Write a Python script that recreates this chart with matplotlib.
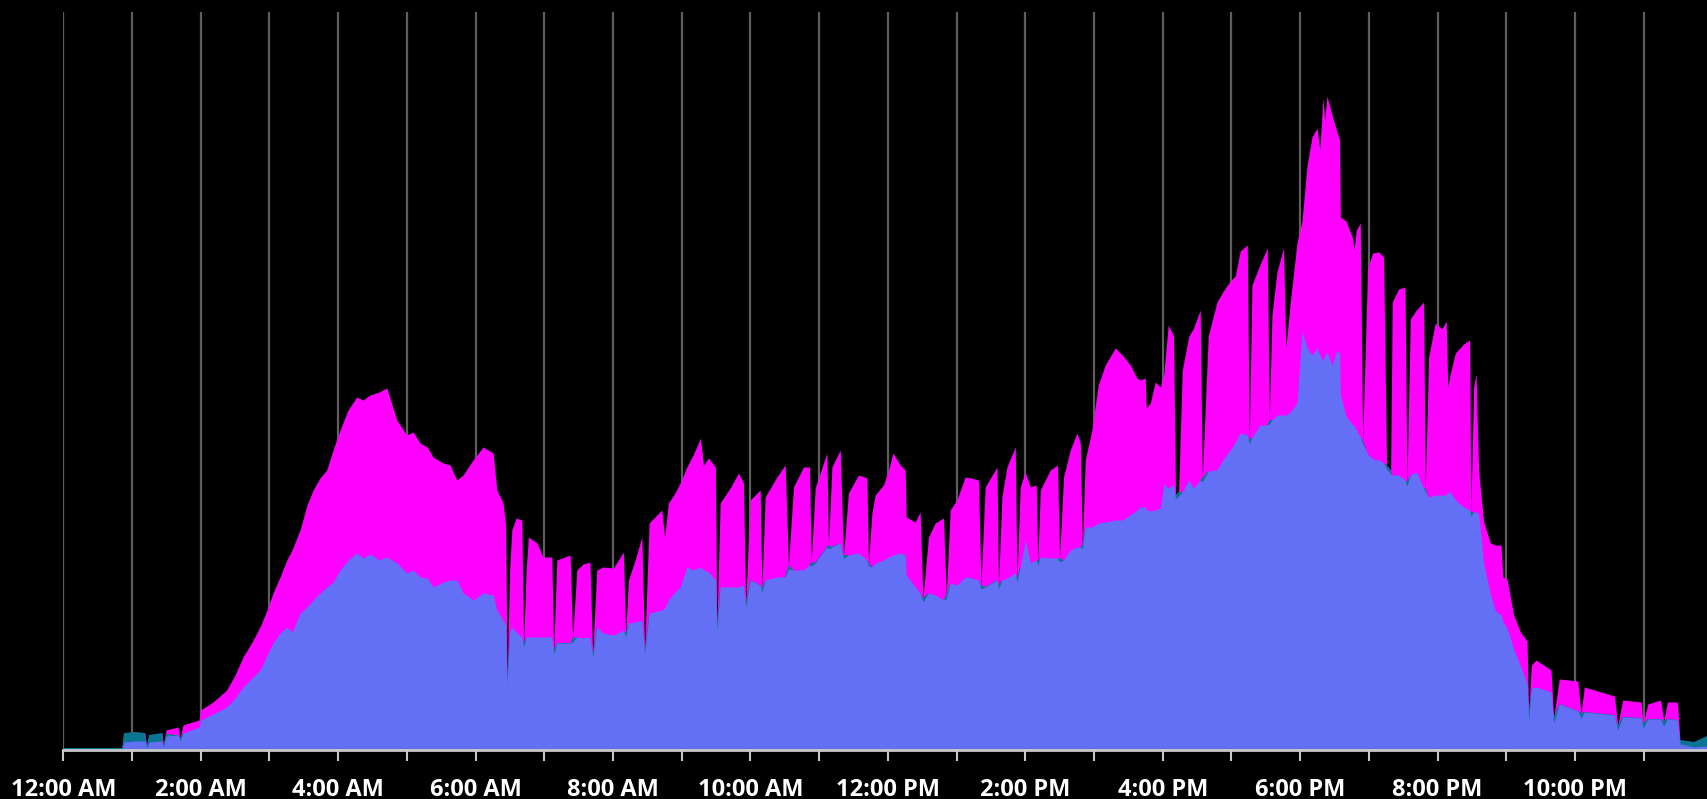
"""
Lưu lượng trong ngày theo giờ - biểu đồ vùng chồng (nền đen).
"""

import matplotlib
matplotlib.use("Agg")
import matplotlib.pyplot as plt
import numpy as np

# Thời điểm (giờ trong ngày)
hours = [
    0.000, 0.854, 0.884, 1.044, 1.189, 1.214, 1.247, 1.437, 1.459, 1.495,
    1.670, 1.699, 1.742, 1.975, 1.997, 2.179, 2.378, 2.499, 2.616, 2.747,
    2.863, 2.965, 3.052, 3.154, 3.252, 3.329, 3.445, 3.547, 3.635, 3.736,
    3.834, 3.926, 4.028, 4.144, 4.271, 4.362, 4.464, 4.595, 4.707, 4.785,
    4.853, 4.999, 5.090, 5.192, 5.294, 5.381, 5.527, 5.629, 5.726, 5.818,
    5.964, 6.109, 6.255, 6.309, 6.400, 6.437, 6.459, 6.495, 6.527, 6.590,
    6.672, 6.699, 6.735, 6.769, 6.891, 6.983, 7.109, 7.136, 7.182, 7.376,
    7.412, 7.473, 7.565, 7.664, 7.703, 7.764, 7.856, 8.006, 8.151, 8.183,
    8.224, 8.322, 8.419, 8.460, 8.525, 8.710, 8.751, 8.806, 8.902, 8.977,
    9.074, 9.166, 9.272, 9.315, 9.389, 9.490, 9.511, 9.559, 9.705, 9.825,
    9.898, 9.930, 9.996, 10.141, 10.166, 10.214, 10.384, 10.505, 10.553, 10.626,
    10.771, 10.859, 10.884, 10.942, 11.112, 11.135, 11.185, 11.306, 11.354, 11.426,
    11.572, 11.694, 11.718, 11.767, 11.815, 11.936, 12.009, 12.073, 12.179, 12.252,
    12.266, 12.397, 12.469, 12.509, 12.591, 12.688, 12.809, 12.849, 12.907, 13.004,
    13.125, 13.212, 13.319, 13.354, 13.416, 13.587, 13.610, 13.659, 13.732, 13.853,
    13.878, 13.926, 13.999, 14.072, 14.159, 14.181, 14.218, 14.363, 14.469, 14.498,
    14.556, 14.654, 14.752, 14.800, 14.829, 14.872, 14.969, 15.061, 15.163, 15.309,
    15.411, 15.527, 15.623, 15.672, 15.745, 15.760, 15.818, 15.891, 15.964, 16.015,
    16.080, 16.157, 16.186, 16.230, 16.284, 16.380, 16.443, 16.545, 16.575, 16.662,
    16.789, 16.881, 16.983, 17.055, 17.128, 17.230, 17.259, 17.298, 17.419, 17.521,
    17.550, 17.589, 17.662, 17.758, 17.790, 17.856, 17.953, 18.026, 18.099, 18.172,
    18.245, 18.285, 18.332, 18.358, 18.390, 18.463, 18.535, 18.573, 18.584, 18.666,
    18.763, 18.782, 18.818, 18.874, 18.909, 18.982, 19.054, 19.146, 19.214, 19.257,
    19.316, 19.340, 19.432, 19.525, 19.554, 19.603, 19.690, 19.796, 19.820, 19.869,
    19.966, 20.063, 20.125, 20.147, 20.183, 20.258, 20.378, 20.466, 20.483, 20.524,
    20.559, 20.597, 20.670, 20.767, 20.840, 20.923, 20.949, 21.010, 21.106, 21.204,
    21.301, 21.325, 21.364, 21.432, 21.650, 21.689, 21.771, 22.039, 22.087, 22.135,
    22.572, 22.621, 22.694, 22.961, 22.990, 23.058, 23.246, 23.290, 23.344, 23.489,
    23.527, 23.731, 23.921,
]

# Đỉnh tổng (mép trên vùng hồng)
total = [
    2, 2, 17, 18, 17, 4, 15, 17, 5, 20,
    23, 12, 25, 30, 40, 48, 60, 75, 93, 108,
    123, 140, 157, 173, 190, 200, 220, 245, 260, 272,
    280, 300, 320, 340, 353, 350, 355, 358, 362, 345,
    330, 315, 318, 307, 303, 293, 287, 285, 270, 275,
    290, 303, 297, 260, 247, 225, 70, 180, 220, 232,
    230, 107, 180, 213, 207, 193, 193, 100, 190, 195,
    112, 180, 186, 188, 97, 180, 183, 182, 198, 117,
    170, 190, 213, 100, 227, 240, 213, 247, 257, 267,
    283, 295, 312, 285, 292, 283, 123, 247, 262, 277,
    267, 147, 250, 260, 162, 253, 273, 285, 185, 263,
    283, 283, 188, 262, 297, 205, 283, 300, 195, 257,
    275, 272, 188, 237, 255, 265, 280, 297, 285, 280,
    233, 228, 238, 152, 213, 227, 232, 155, 240, 250,
    273, 272, 270, 165, 263, 283, 165, 253, 283, 303,
    172, 263, 278, 263, 265, 189, 260, 280, 285, 192,
    273, 300, 317, 307, 205, 290, 320, 365, 385, 402,
    395, 385, 372, 370, 372, 342, 347, 368, 363, 376,
    425, 414, 255, 258, 380, 414, 421, 440, 272, 414,
    448, 459, 469, 474, 499, 505, 310, 465, 486, 502,
    330, 435, 478, 502, 402, 448, 507, 529, 584, 613,
    622, 600, 652, 630, 654, 635, 618, 610, 533, 529,
    512, 500, 520, 527, 310, 482, 497, 498, 493, 285,
    280, 448, 461, 463, 268, 431, 440, 448, 262, 393,
    427, 421, 429, 363, 376, 397, 406, 410, 238, 363,
    376, 279, 228, 207, 205, 205, 173, 171, 135, 118,
    109, 37, 85, 90, 80, 33, 71, 69, 37, 63,
    54, 25, 50, 48, 27, 46, 50, 29, 48, 48,
    10, 8, 14,
]

# Vùng xanh tím (lớp dưới cùng)
blue = [
    0, 0, 8, 9, 9, 2, 8, 9, 3, 14,
    15, 9, 17, 23, 30, 36, 43, 52, 63, 72,
    80, 95, 107, 117, 123, 118, 137, 143, 150, 157,
    163, 168, 180, 190, 197, 192, 196, 190, 193, 190,
    187, 177, 180, 173, 172, 163, 168, 170, 170, 157,
    150, 157, 155, 140, 130, 125, 66, 118, 123, 118,
    113, 103, 113, 113, 113, 113, 113, 96, 107, 107,
    108, 113, 112, 113, 93, 123, 117, 115, 120, 113,
    127, 128, 130, 96, 137, 140, 142, 150, 158, 163,
    183, 180, 183, 180, 178, 170, 119, 163, 163, 163,
    165, 143, 170, 165, 158, 170, 173, 173, 181, 180,
    180, 185, 184, 187, 203, 201, 203, 207, 191, 195,
    197, 190, 184, 183, 187, 190, 193, 195, 197, 195,
    175, 163, 157, 148, 157, 155, 150, 151, 167, 165,
    173, 172, 170, 161, 163, 170, 161, 170, 172, 177,
    168, 183, 210, 187, 190, 185, 193, 192, 192, 188,
    190, 200, 203, 203, 201, 223, 223, 227, 228, 230,
    230, 235, 240, 243, 243, 240, 239, 240, 242, 266,
    262, 265, 251, 254, 258, 270, 262, 270, 268, 279,
    280, 291, 300, 308, 317, 315, 306, 313, 325, 325,
    326, 330, 335, 335, 335, 338, 347, 419, 402, 395,
    402, 395, 389, 395, 398, 385, 400, 395, 355, 334,
    325, 325, 320, 313, 306, 296, 291, 290, 287, 281,
    276, 275, 275, 270, 264, 275, 278, 262, 258, 253,
    255, 255, 255, 258, 258, 250, 243, 240, 234, 238,
    238, 236, 186, 156, 139, 135, 128, 122, 101, 84,
    67, 30, 62, 63, 58, 27, 46, 39, 32, 38,
    35, 20, 33, 32, 22, 31, 31, 24, 31, 30,
    6, 3, 4,
]

# Vùng xanh lục đậm (lớp giữa, chủ yếu ở các điểm sụt)
teal = [
    2, 2, 9, 9, 8, 2, 7, 8, 2, 2,
    0, 3, 0, 0, 0, 0, 0, 0, 0, 0,
    0, 0, 0, 0, 0, 0, 0, 0, 0, 0,
    0, 0, 0, 0, 0, 0, 0, 0, 0, 0,
    0, 0, 0, 0, 0, 0, 0, 0, 0, 0,
    0, 0, 0, 0, 0, 0, 4, 0, 0, 0,
    0, 4, 0, 0, 0, 0, 0, 4, 0, 0,
    4, 0, 0, 0, 4, 0, 0, 0, 0, 4,
    0, 0, 0, 4, 0, 0, 0, 0, 0, 0,
    0, 0, 0, 0, 0, 0, 4, 0, 0, 0,
    0, 4, 0, 0, 4, 0, 0, 0, 4, 0,
    0, 0, 4, 0, 0, 4, 0, 0, 4, 0,
    0, 0, 4, 0, 0, 0, 0, 0, 0, 0,
    0, 0, 0, 4, 0, 0, 0, 4, 0, 0,
    0, 0, 0, 4, 0, 0, 4, 0, 0, 0,
    4, 0, 0, 0, 0, 4, 0, 0, 0, 4,
    0, 0, 0, 0, 4, 0, 0, 0, 0, 0,
    0, 0, 0, 0, 0, 0, 0, 0, 0, 0,
    0, 0, 4, 4, 0, 0, 0, 0, 4, 0,
    0, 0, 0, 0, 0, 0, 4, 0, 0, 0,
    4, 0, 0, 0, 0, 0, 0, 0, 0, 0,
    0, 0, 0, 0, 0, 0, 0, 0, 0, 0,
    0, 0, 0, 0, 4, 0, 0, 0, 0, 4,
    4, 0, 0, 0, 4, 0, 0, 0, 4, 0,
    0, 0, 0, 0, 0, 0, 0, 0, 4, 0,
    0, 0, 0, 0, 0, 0, 0, 0, 0, 0,
    0, 7, 0, 0, 0, 6, 0, 0, 5, 0,
    0, 5, 0, 0, 5, 0, 0, 5, 0, 0,
    4, 5, 10,
]

tick_hours = list(range(24))
tick_labels = ["12:00 AM", "", "2:00 AM", "", "4:00 AM", "", "6:00 AM", "",
               "8:00 AM", "", "10:00 AM", "", "12:00 PM", "", "2:00 PM", "",
               "4:00 PM", "", "6:00 PM", "", "8:00 PM", "", "10:00 PM", ""]

BLUE = "#6370F5"
TEAL = "#0A7591"
MAGENTA = "#FF00FF"

plt.rcParams["font.family"] = ["Open Sans", "DejaVu Sans"]

fig = plt.figure(figsize=(17.07, 7.99), dpi=100, facecolor="black")
ax = fig.add_axes([63.3 / 1707, 49 / 799, 1 - 63.3 / 1707, 738 / 799])
ax.set_facecolor("black")

x = np.array(hours)
b = np.array(blue)
t = np.array(teal)
top = np.array(total)

# Vẽ chồng lớp: hồng (tổng) -> xanh lục -> xanh tím để tránh đường viền
has_teal = t > 0
mask = has_teal.copy()
mask[1:] |= has_teal[:-1]
mask[:-1] |= has_teal[1:]

ax.fill_between(x, 0, top, color=MAGENTA, lw=0, zorder=2)
ax.fill_between(x, 0, b + t, where=mask, color=TEAL, lw=0, zorder=3)
ax.fill_between(x, 0, b, color=BLUE, lw=0, zorder=4)

ax.set_xlim(0, 23.92)
ax.set_ylim(0, 738)

ax.set_xticks(tick_hours)
ax.set_xticklabels(tick_labels, fontsize=17, fontweight="bold", color="white")
ax.set_yticks([])
ax.grid(True, axis="x", color="#5e5e5e", linewidth=1.6, zorder=0)
ax.set_axisbelow(True)

for side in ["top", "left", "right"]:
    ax.spines[side].set_visible(False)
ax.spines["bottom"].set_color("#c8c8c8")
ax.spines["bottom"].set_linewidth(2)
ax.spines["bottom"].set_zorder(5)
ax.tick_params(axis="x", colors="#c8c8c8", labelcolor="white",
               length=8, width=1.5, pad=12)

fig.savefig("out.png", dpi=100, facecolor="black")
